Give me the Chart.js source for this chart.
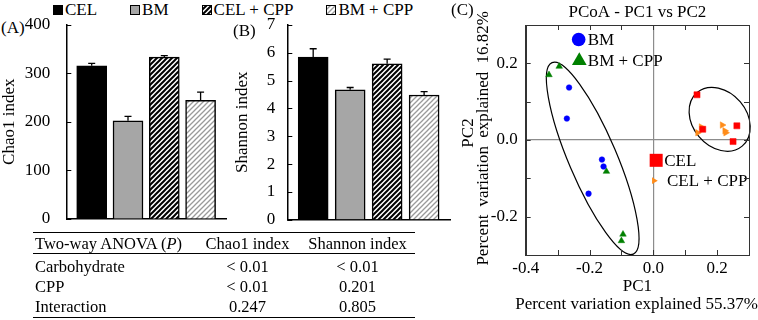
<!DOCTYPE html>
<html>
<head>
<meta charset="utf-8">
<script src="https://cdn.jsdelivr.net/npm/chart.js"></script>
<style>
  body { margin: 0; background: #fff; font-family: "Liberation Serif", serif; color: #000; }
  #wrap { position: relative; width: 758px; height: 320px; overflow: hidden; }
  #wrap canvas.chart { position: absolute; }
  .tag { position: absolute; font-size: 17px; line-height: 20px; }
  #legend { position: absolute; left: 53px; top: 0; height: 20px; display: flex; gap: 33px; font-size: 17px; line-height: 20px; }
  #legend .item { display: flex; align-items: center; }
  #legend canvas { margin-right: 2px; }
  #anova { position: absolute; left: 33px; top: 232px; width: 382px; border-collapse: separate; border-spacing: 0;
           font-size: 16.5px; line-height: 19px; }
  #anova th { font-weight: normal; height: 20px; padding: 0; border-top: 1.5px solid #000; border-bottom: 1px solid #000; }
  #anova td { padding: 0; height: 20.3px; }
  #anova tbody tr:first-child td { padding-top: 2px; }
  #anova tbody tr:last-child td { border-bottom: 1.5px solid #000; }
  #anova .c1 { text-align: left; padding-left: 2px; width: 160px; }
  #anova .c2 { text-align: center; width: 105px; }
  #anova .c3 { text-align: center; width: 115px; }
</style>
</head>
<body>
<div id="wrap">
  <div id="legend"></div>
  <div class="tag" style="left:1px;top:18px">(A)</div>
  <div class="tag" style="left:233px;top:21px">(B)</div>
  <div class="tag" style="left:451px;top:0px">(C)</div>
  <canvas class="chart" id="chartA" width="228" height="230" style="left:0;top:0"></canvas>
  <canvas class="chart" id="chartB" width="230" height="230" style="left:228px;top:0"></canvas>
  <canvas class="chart" id="chartC" width="308" height="320" style="left:450px;top:0"></canvas>
  <table id="anova">
    <thead><tr><th class="c1">Two-way ANOVA (<i>P</i>)</th><th class="c2">Chao1 index</th><th class="c3">Shannon index</th></tr></thead>
    <tbody></tbody>
  </table>
</div>
<script>
// ---- data ----
const groups = ['CEL', 'BM', 'CEL + CPP', 'BM + CPP'];
const chao1 = [315, 202, 333, 244];
const chao1Err = [5, 9, 3, 17];
const shannon = [5.84, 4.67, 5.6, 4.48];
const shannonErr = [0.3, 0.08, 0.17, 0.12];

const anovaRows = ['Carbohydrate', 'CPP', 'Interaction'];
const anovaChao1 = ['< 0.01', '< 0.01', '0.247'];
const anovaShannon = ['< 0.01', '0.201', '0.805'];

// PCoA scores, same order as groups
const celPC1 = [0.137, 0.155, 0.262, 0.25];
const celPC2 = [0.118, 0.028, 0.037, -0.004];
const bmPC1 = [-0.264, -0.271, -0.161, -0.156, -0.203];
const bmPC2 = [0.137, 0.056, -0.051, -0.069, -0.14];
const celCppPC1 = [0.15, 0.139, 0.216, 0.224, 0.227];
const celCppPC2 = [0.034, 0.019, 0.039, 0.024, 0.019];
const bmCppPC1 = [-0.327, -0.295, -0.147, -0.095, -0.1];
const bmCppPC2 = [0.17, 0.192, -0.082, -0.246, -0.263];
const pcoaPC1 = [celPC1, bmPC1, celCppPC1, bmCppPC1];
const pcoaPC2 = [celPC2, bmPC2, celCppPC2, bmCppPC2];

// ---- styles ----
Chart.defaults.font.family = '"Liberation Serif", serif';
Chart.defaults.font.size = 17;
Chart.defaults.color = '#000';

function hatch(color, lw) {
  const c = document.createElement('canvas');
  c.width = 5; c.height = 5;
  const g = c.getContext('2d');
  g.fillStyle = '#fff';
  g.fillRect(0, 0, 5, 5);
  g.strokeStyle = color;
  g.lineWidth = lw;
  g.beginPath();
  g.moveTo(-1, 1); g.lineTo(1, -1);
  g.moveTo(0, 5); g.lineTo(5, 0);
  g.moveTo(4, 6); g.lineTo(6, 4);
  g.stroke();
  return g.createPattern(c, 'repeat');
}
const barFills = ['#000', '#a6a6a6', hatch('#000', 2), hatch('#9a9a9a', 1.3)];

const pcoaStyle = [
  { color: '#ff0000', shape: 'rect', radius: 4.3, rotation: 0 },
  { color: '#0000ff', shape: 'circle', radius: 2.8, rotation: 0 },
  { color: '#ff8c1a', shape: 'triangle', radius: 3.8, rotation: 90 },
  { color: '#008000', shape: 'triangle', radius: 3.8, rotation: 0 }
];
// in-plot key of panel C: marker placed in data units
const pcoaKey = [
  { series: 1, x: -0.234, y: 0.262, radius: 6.8, dx: 9 },
  { series: 3, x: -0.232, y: 0.207, radius: 8.5, dx: 8.5 },
  { series: 0, x: 0.009, y: -0.053, radius: 9.2, dx: 8 },
  { series: 2, x: 0.002, y: -0.106, radius: 3.8, dx: 13 }
];
const ellipses = [
  { cx: -0.19, cy: -0.048, rx: 104, ry: 24, angle: 67 },
  { cx: 0.208, cy: 0.054, rx: 35, ry: 27, angle: 50 }
];

// ---- legend and table ----
const legend = document.getElementById('legend');
groups.forEach((g, i) => {
  const item = document.createElement('div');
  item.className = 'item';
  const sw = document.createElement('canvas');
  sw.width = 10; sw.height = 10;
  const sctx = sw.getContext('2d');
  sctx.fillStyle = barFills[i];
  sctx.fillRect(0, 0, 10, 10);
  sctx.strokeStyle = '#000';
  sctx.lineWidth = 1;
  sctx.strokeRect(0.5, 0.5, 9, 9);
  item.appendChild(sw);
  item.appendChild(document.createTextNode(g));
  legend.appendChild(item);
});

const tbody = document.querySelector('#anova tbody');
anovaRows.forEach((r, i) => {
  const tr = document.createElement('tr');
  tr.innerHTML = '<td class="c1">' + r + '</td><td class="c2">' + anovaChao1[i].replace('<', '&lt;') +
    '</td><td class="c3">' + anovaShannon[i].replace('<', '&lt;') + '</td>';
  tbody.appendChild(tr);
});

// ---- plugins ----
const innerTicks = {
  id: 'innerTicks',
  afterDraw(chart, args, opts) {
    const { ctx, chartArea: a, scales } = chart;
    const len = opts.length || 5;
    ctx.save();
    ctx.strokeStyle = opts.color || '#000';
    ctx.lineWidth = 1;
    ctx.beginPath();
    if (opts.y) scales.y.ticks.forEach(t => {
      const py = Math.round(scales.y.getPixelForValue(t.value)) + 0.5;
      ctx.moveTo(a.left, py); ctx.lineTo(a.left + len, py);
      if (opts.mirror) { ctx.moveTo(a.right, py); ctx.lineTo(a.right - len, py); }
    });
    if (opts.x) scales.x.ticks.forEach(t => {
      const px = Math.round(scales.x.getPixelForValue(t.value)) + 0.5;
      ctx.moveTo(px, a.bottom); ctx.lineTo(px, a.bottom - len);
      if (opts.mirror) { ctx.moveTo(px, a.top); ctx.lineTo(px, a.top + len); }
    });
    ctx.stroke();
    if (opts.frame) {
      ctx.strokeStyle = opts.frame;
      ctx.strokeRect(Math.round(a.left) + 0.5, Math.round(a.top) + 0.5,
        Math.round(a.right - a.left), Math.round(a.bottom - a.top));
    }
    ctx.restore();
  }
};

const errorBars = {
  id: 'errorBars',
  afterDatasetsDraw(chart, args, opts) {
    const meta = chart.getDatasetMeta(0);
    const ys = chart.scales.y;
    const ctx = chart.ctx;
    ctx.save();
    ctx.strokeStyle = '#000';
    ctx.lineWidth = 1.3;
    meta.data.forEach((bar, i) => {
      const v = chart.data.datasets[0].data[i].y;
      const top = ys.getPixelForValue(v + opts.errors[i]);
      ctx.beginPath();
      ctx.moveTo(bar.x, bar.y);
      ctx.lineTo(bar.x, top);
      ctx.moveTo(bar.x - 3.5, top);
      ctx.lineTo(bar.x + 3.5, top);
      ctx.stroke();
    });
    ctx.restore();
  }
};

function drawMarker(ctx, shape, x, y, r, rot) {
  ctx.beginPath();
  if (shape === 'circle') {
    ctx.arc(x, y, r, 0, Math.PI * 2);
  } else if (shape === 'rect') {
    const s = r * Math.SQRT1_2;
    ctx.rect(x - s, y - s, 2 * s, 2 * s);
  } else {
    let a = (rot || 0) * Math.PI / 180;
    for (let k = 0; k < 3; k++) {
      const px = x + Math.sin(a) * r, py = y - Math.cos(a) * r;
      if (k) ctx.lineTo(px, py); else ctx.moveTo(px, py);
      a += 2 * Math.PI / 3;
    }
    ctx.closePath();
  }
  ctx.fill();
}

const ellipsePlugin = {
  id: 'ellipses',
  beforeDatasetsDraw(chart) {
    const { ctx, scales: { x, y } } = chart;
    ctx.save();
    ctx.strokeStyle = '#000';
    ctx.lineWidth = 1.2;
    ellipses.forEach(e => {
      ctx.beginPath();
      ctx.ellipse(x.getPixelForValue(e.cx), y.getPixelForValue(e.cy), e.rx, e.ry,
        e.angle * Math.PI / 180, 0, Math.PI * 2);
      ctx.stroke();
    });
    ctx.restore();
  }
};

const keyPlugin = {
  id: 'pcoaKey',
  afterDatasetsDraw(chart) {
    const { ctx, scales: { x, y } } = chart;
    ctx.save();
    ctx.font = '17px "Liberation Serif"';
    ctx.textBaseline = 'middle';
    ctx.textAlign = 'left';
    pcoaKey.forEach(k => {
      const st = pcoaStyle[k.series];
      const px = x.getPixelForValue(k.x), py = y.getPixelForValue(k.y);
      ctx.fillStyle = st.color;
      drawMarker(ctx, st.shape, px, py, k.radius, st.rotation);
      ctx.fillStyle = '#000';
      ctx.fillText(groups[k.series], px + k.dx, py + 1);
    });
    ctx.restore();
  }
};

const captions = {
  id: 'captions',
  afterDraw(chart, args, opts) {
    const ctx = chart.ctx;
    ctx.save();
    ctx.fillStyle = '#000';
    ctx.textBaseline = 'middle';
    ctx.textAlign = 'center';
    opts.items.forEach(c => {
      ctx.font = '17px "Liberation Serif"';
      ctx.wordSpacing = c.wordSpacing || '0px';
      ctx.save();
      ctx.translate(c.x, c.y);
      if (c.rotate) ctx.rotate(c.rotate);
      ctx.fillText(c.text, 0, 0);
      ctx.restore();
    });
    ctx.restore();
  }
};

// ---- bar panels ----
function barPanel(id, values, errs, yMax, title, yWidth, labelGap, titlePad, pad) {
  new Chart(document.getElementById(id), {
    type: 'bar',
    data: {
      datasets: [{
        data: values.map((v, i) => ({ x: i, y: v })),
        backgroundColor: barFills,
        borderColor: '#000',
        borderWidth: 1.5,
        barThickness: 30
      }]
    },
    options: {
      responsive: false,
      animation: false,
      devicePixelRatio: 1,
      layout: { padding: pad },
      scales: {
        x: {
          type: 'linear', min: -0.7, max: 3.7, offset: false,
          ticks: { display: false },
          grid: { display: false },
          border: { display: true, color: '#000', width: 1.5 },
          afterFit: s => { s.height = 0; }
        },
        y: {
          min: 0, max: yMax,
          ticks: { stepSize: yMax / (yMax > 10 ? 4 : 7), padding: 0, font: { size: 17 } },
          grid: { drawOnChartArea: false, drawTicks: true, tickLength: labelGap, tickColor: 'rgba(0,0,0,0)' },
          border: { display: true, color: '#000', width: 1.5 },
          title: { display: true, text: title, font: { size: 17, lineHeight: 1 }, padding: { top: titlePad, bottom: 0 } },
          afterFit: s => { s.width = yWidth; }
        }
      },
      plugins: {
        legend: { display: false },
        tooltip: { enabled: false },
        errorBars: { errors: errs },
        innerTicks: { y: true, length: 5, color: '#000' }
      }
    },
    plugins: [errorBars, innerTicks]
  });
}

barPanel('chartA', chao1, chao1Err, 400, 'Chao1 index', 66.3, 16, 1,
  { left: 0, right: 2, top: 24.5, bottom: 11 });
barPanel('chartB', shannon, shannonErr, 7, 'Shannon index', 59.3, 12, 6,
  { left: 0, right: 8, top: 24.8, bottom: 9.7 });

// ---- PCoA panel ----
const tenths = v => Math.round(v * 10);
const everyOther = v => tenths(v) % 2 === 0 ? (tenths(v) / 10).toFixed(1) : '';
const zeroLine = c => Math.abs(c.tick.value) < 1e-9 ? '#8c8c8c' : 'rgba(0,0,0,0)';
new Chart(document.getElementById('chartC'), {
  type: 'scatter',
  data: {
    datasets: groups.map((g, i) => ({
      label: g,
      data: pcoaPC1[i].map((v, j) => ({ x: v, y: pcoaPC2[i][j] })),
      backgroundColor: pcoaStyle[i].color,
      borderColor: pcoaStyle[i].color,
      borderWidth: 0.5,
      pointStyle: pcoaStyle[i].shape,
      pointRadius: pcoaStyle[i].radius,
      pointRotation: pcoaStyle[i].rotation
    }))
  },
  options: {
    responsive: false,
    animation: false,
    devicePixelRatio: 1,
    layout: { padding: { left: 0, right: 9, top: 25, bottom: 0 } },
    scales: {
      x: {
        type: 'linear', min: -0.4, max: 0.3,
        ticks: { stepSize: 0.1, padding: 3, maxRotation: 0, minRotation: 0, autoSkip: false, callback: everyOther },
        grid: { drawTicks: false, lineWidth: 1.2, color: zeroLine },
        border: { display: true, color: '#333', width: 1 },
        afterFit: s => { s.height = 65; }
      },
      y: {
        type: 'linear', min: -0.3, max: 0.3,
        ticks: { stepSize: 0.1, padding: 0, autoSkip: false, callback: everyOther },
        grid: { drawTicks: true, tickLength: 8, tickColor: 'rgba(0,0,0,0)', lineWidth: 1.2, color: zeroLine },
        border: { display: true, color: '#333', width: 1 },
        afterFit: s => { s.width = 75.7; }
      }
    },
    plugins: {
      legend: { display: false },
      tooltip: { enabled: false },
      innerTicks: { x: true, y: true, mirror: true, length: 5, color: '#333', frame: '#333' },
      captions: {
        items: [
          { text: 'PCoA - PC1 vs PC2', x: 187.4, y: 13 },
          { text: 'PC1', x: 187.4, y: 286.7 },
          { text: 'Percent variation explained 55.37%', x: 186.5, y: 305 },
          { text: 'PC2', x: 19, y: 133, rotate: -Math.PI / 2 },
          { text: 'Percent variation explained 16.82%', x: 34, y: 138.3, rotate: -Math.PI / 2, wordSpacing: '4px' }
        ]
      }
    }
  },
  plugins: [ellipsePlugin, keyPlugin, innerTicks, captions]
});
</script>
</body>
</html>
